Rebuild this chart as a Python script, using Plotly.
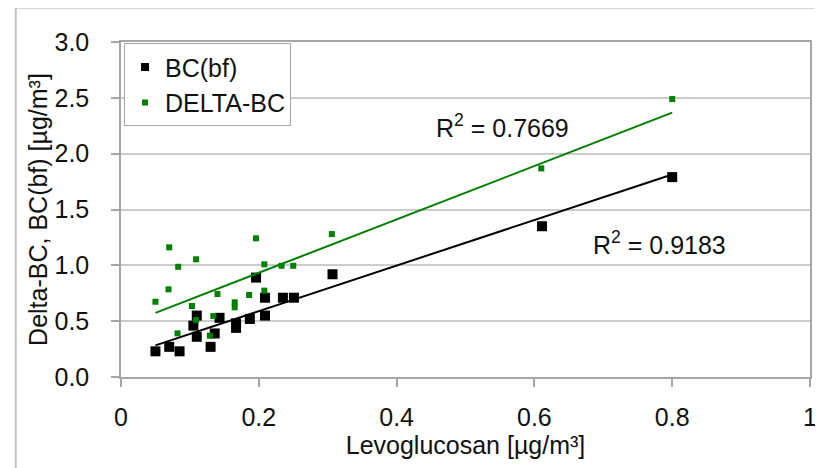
import numpy as np
import plotly.graph_objects as go

# ---- data ----
bc_x = [0.05, 0.07, 0.085, 0.11, 0.105, 0.11, 0.13, 0.136, 0.143, 0.167,
        0.167, 0.187, 0.196, 0.209, 0.209, 0.235, 0.251, 0.307, 0.611, 0.80]
bc_y = [0.23, 0.27, 0.23, 0.55, 0.46, 0.36, 0.27, 0.39, 0.53, 0.48,
        0.44, 0.52, 0.89, 0.71, 0.55, 0.71, 0.71, 0.92, 1.35, 1.79]

delta_x = [0.05, 0.07, 0.083, 0.069, 0.109, 0.103, 0.082, 0.109, 0.14, 0.134, 0.129,
           0.165, 0.165, 0.186, 0.196, 0.208, 0.208, 0.233, 0.25, 0.306, 0.61, 0.80]
delta_y = [0.674, 1.161, 0.987, 0.785, 1.054, 0.636, 0.391, 0.51, 0.743, 0.546, 0.37,
           0.669, 0.624, 0.734, 1.242, 1.009, 0.773, 0.996, 0.996, 1.28, 1.868, 2.489]

series_names = ["BC(bf)", "DELTA-BC"]
r2_labels = ["0.9183", "0.7669"]
x_ticks = [0, 0.2, 0.4, 0.6, 0.8, 1]
x_tick_text = ["0", "0.2", "0.4", "0.6", "0.8", "1"]
y_ticks = [0.0, 0.5, 1.0, 1.5, 2.0, 2.5, 3.0]
y_tick_text = ["0.0", "0.5", "1.0", "1.5", "2.0", "2.5", "3.0"]

BLACK = "#000000"
GREEN = "#008000"
FONT = "Liberation Sans, Arial, sans-serif"


def trend(xs, ys):
    xs = np.asarray(xs, float)
    ys = np.asarray(ys, float)
    k, b = np.polyfit(xs, ys, 1)
    xl = np.array([xs.min(), xs.max()])
    return xl, k * xl + b


fig = go.Figure()

fig.add_trace(go.Scatter(x=bc_x, y=bc_y, mode="markers", showlegend=False,
                         marker=dict(symbol="square", size=10, color=BLACK)))
fig.add_trace(go.Scatter(x=delta_x, y=delta_y, mode="markers", showlegend=False,
                         marker=dict(symbol="square", size=6, color=GREEN)))

tx, ty = trend(bc_x, bc_y)
fig.add_trace(go.Scatter(x=tx, y=ty, mode="lines", showlegend=False,
                         line=dict(color=BLACK, width=2), hoverinfo="skip"))
tx2, ty2 = trend(delta_x, delta_y)
fig.add_trace(go.Scatter(x=tx2, y=ty2, mode="lines", showlegend=False,
                         line=dict(color=GREEN, width=2), hoverinfo="skip"))

# legend entries (small symbols like the reference legend)
fig.add_trace(go.Scatter(x=[None], y=[None], mode="markers", name=series_names[0],
                         marker=dict(symbol="square", size=8, color=BLACK)))
fig.add_trace(go.Scatter(x=[None], y=[None], mode="markers", name=series_names[1],
                         marker=dict(symbol="square", size=6, color=GREEN)))

fig.add_annotation(x=0.553, y=2.25, xref="x", yref="y", showarrow=False,
                   text="R<sup>2</sup> = " + r2_labels[1],
                   font=dict(family=FONT, size=25, color="#111111"))
fig.add_annotation(x=0.782, y=1.20, xref="x", yref="y", showarrow=False,
                   text="R<sup>2</sup> = " + r2_labels[0],
                   font=dict(family=FONT, size=25, color="#111111"))

# outer frame of the chart object (partially visible)
frame_col = "#c4c4c4"
fig.add_shape(type="line", xref="paper", yref="paper", x0=-0.1528, x1=1.2,
              y0=1.1026, y1=1.1026, line=dict(color=frame_col, width=2))
fig.add_shape(type="line", xref="paper", yref="paper", x0=-0.1528, x1=-0.1528,
              y0=1.1026, y1=-0.4, line=dict(color=frame_col, width=2))
# tiny marks at the very top edge (remnants from above the chart)
for px in [121, 281, 386, 494, 599, 707, 817]:
    xp = (px - 121) / 689
    fig.add_shape(type="line", xref="paper", yref="paper", x0=xp, x1=xp,
                  y0=1 + (41.7 - 0) / 335.3, y1=1 + (41.7 - 3) / 335.3,
                  line=dict(color="#555555", width=1.5))

axis_line = "#a6a6a6"
fig.update_xaxes(range=[0, 1], tickvals=x_ticks, ticktext=x_tick_text,
                 showgrid=False, zeroline=False, showline=True, linecolor=axis_line,
                 linewidth=1.5, mirror=True, ticks="outside", ticklen=8,
                 tickcolor=axis_line, tickwidth=1.5, ticklabelstandoff=9,
                 tickfont=dict(family=FONT, size=25, color="#111111"),
                 title=dict(text="Levoglucosan [µg/m³]", standoff=5,
                            font=dict(family=FONT, size=25, color="#111111")))
fig.update_yaxes(range=[0, 3], tickvals=y_ticks, ticktext=y_tick_text,
                 showgrid=True, gridcolor="#cccccc", gridwidth=1.5,
                 zeroline=False, showline=True, linecolor=axis_line,
                 linewidth=1.5, mirror=True, ticks="outside", ticklen=8,
                 tickcolor=axis_line, tickwidth=1.5, ticklabelstandoff=17,
                 tickfont=dict(family=FONT, size=25, color="#111111"),
                 title=dict(text="Delta-BC, BC(bf) [µg/m³]", standoff=0,
                            font=dict(family=FONT, size=25, color="#111111")))

# the page has an 8px body margin, so the plot area is placed to land at
# x 121..810, y 42..377 of the window
fig.update_layout(
    width=823, height=468,
    margin=dict(l=113, r=21, t=34, b=99, autoexpand=False),
    paper_bgcolor="white", plot_bgcolor="white",
    font=dict(family=FONT, size=25, color="#111111"),
    legend=dict(x=0.0044, y=0.996, xanchor="left", yanchor="top",
                bgcolor="white", bordercolor="#a6a6a6", borderwidth=1,
                font=dict(family=FONT, size=25, color="#111111"),
                tracegroupgap=0, itemwidth=30),
    showlegend=True,
)

fig.write_html("out.html")
